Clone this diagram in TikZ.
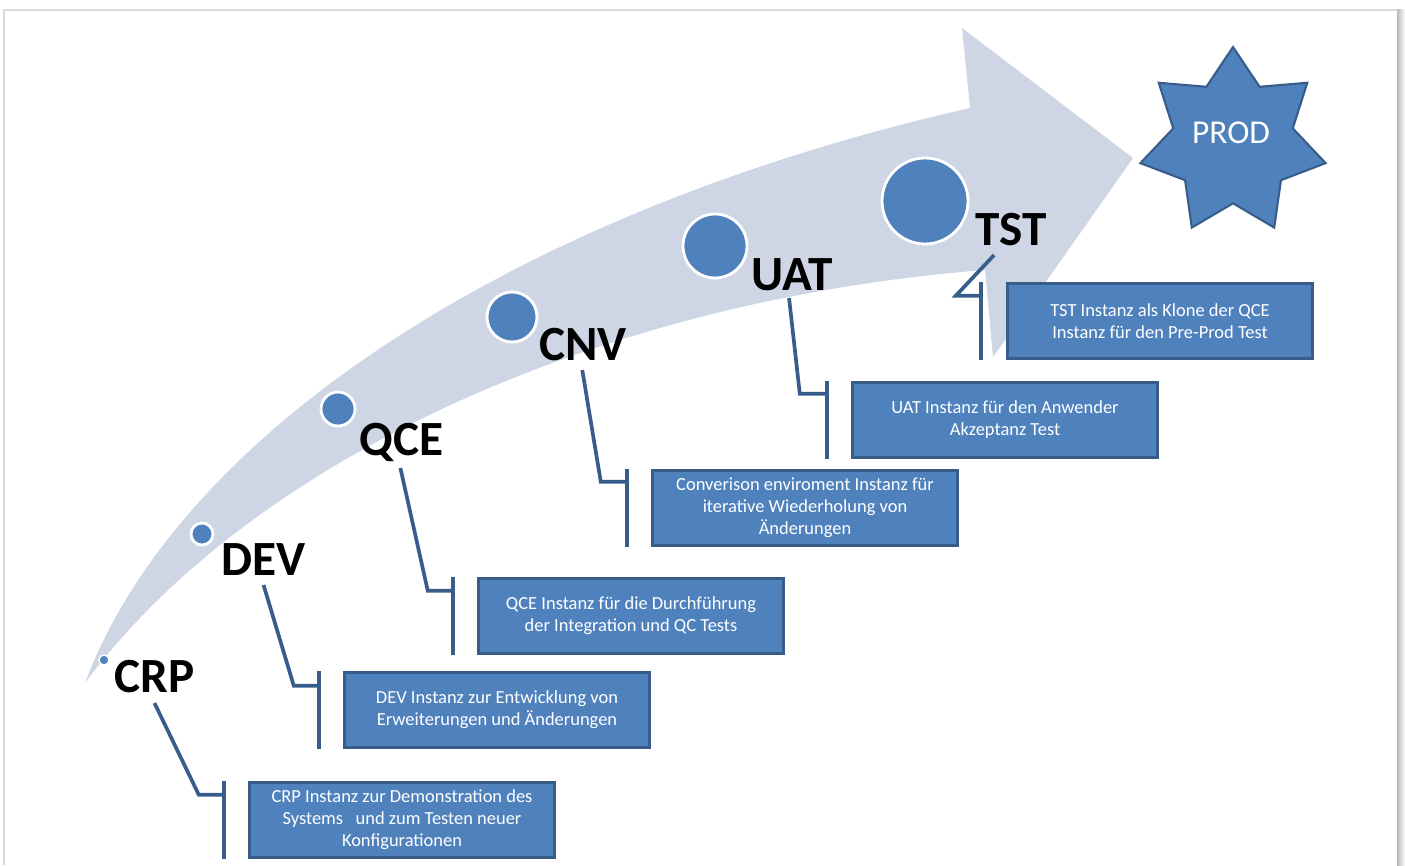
\documentclass[tikz,border=0pt]{standalone}
\usepackage{fontspec}
\setmainfont{Carlito}
\usetikzlibrary{shapes.geometric}
\definecolor{bandblue}{RGB}{206,214,230}
\definecolor{stepblue}{RGB}{79,129,189}
\definecolor{edgeblue}{RGB}{56,93,138}

\begin{document}
\begin{tikzpicture}[
		x=0.02cm, y=-0.02cm,
		line width=0.2mm,
		stage/.style={font=\fontsize{28}{30}\selectfont\bfseries, inner sep=0, anchor=base west},
		dot/.style={circle, fill=stepblue, draw=white, line width=1.6pt, inner sep=0},
		infobox/.style={rectangle, fill=stepblue, draw=edgeblue, line width=2pt, text=white, align=center,
			minimum width=6.1cm, minimum height=1.5cm, inner sep=2pt, font=\fontsize{10.5}{12.5}\selectfont},
		link/.style={draw=edgeblue, line width=2.1pt},
	]
	\useasboundingbox (0,0) rectangle (1405,865);
	% frame
	\shade[left color=gray!55, right color=white] (1397,10) rectangle (1405,865);
	\draw[gray!30, line width=0.8pt] (4,865) -- (4,10) -- (1397,10);
	
	% curved arrow
	\fill[bandblue] (85,683) .. controls (180,430) and (520,210) .. (970,108) -- (962,28) -- (1133,158)
		-- (993,357) -- (985,270) .. controls (600,300) and (250,460) .. (85,683) -- cycle;
	
	\node (crpdot) [dot, minimum size=0.2cm, line width=0.8pt] at (104,660) {};
	\node (devdot) [dot, minimum size=0.44cm] at (202,534) {};
	\node (qcedot) [dot, minimum size=0.68cm] at (338,409) {};
	\node (cnvdot) [dot, minimum size=1.0cm] at (512,317) {};
	\node (uatdot) [dot, minimum size=1.28cm] at (715,246) {};
	\node (tstdot) [dot, minimum size=1.72cm] at (925,201) {};
	
	\node (crp) [stage] at (114,692) {CRP};
	\node (dev) [stage] at (221,575) {DEV};
	\node (qce) [stage] at (359,455) {QCE};
	\node (cnv) [stage] at (539,360) {CNV};
	\node (uat) [stage] at (751,290) {UAT};
	\node (tst) [stage] at (975,245) {TST};
	
	\node (crpbox) [infobox] at (402,820) {CRP Instanz zur Demonstration des\\Systems\ \ \ und zum Testen\ neuer\\Konfigurationen};
	\node (devbox) [infobox] at (497,710) {DEV\ Instanz\ zur Entwicklung von\\Erweiterungen\ und Änderungen};
	\node (qcebox) [infobox] at (631,616) {QCE\ Instanz\ für die\ Durchführung\\der Integration und QC Tests};
	\node (cnvbox) [infobox] at (805,508) {Converison enviroment Instanz\ für\\iterative Wiederholung von\\Änderungen};
	\node (uatbox) [infobox] at (1005,420) {UAT\ Instanz\ für den Anwender\\Akzeptanz\ Test};
	\node (tstbox) [infobox] at (1160,321) {TST\ Instanz als Klone der QCE\\Instanz für den\ Pre-Prod Test};
	
	\coordinate (crpbar) at ([shift={(-24,0)}]crpbox.north west);
	\coordinate (devbar) at ([shift={(-24,0)}]devbox.north west);
	\coordinate (qcebar) at ([shift={(-24,0)}]qcebox.north west);
	\coordinate (cnvbar) at ([shift={(-24,0)}]cnvbox.north west);
	\coordinate (uatbar) at ([shift={(-24,0)}]uatbox.north west);
	\coordinate (tstbar) at ([shift={(-25,0)}]tstbox.north west);
	
	\draw[link] ([shift={(0,11)}]crp.base) -- ([shift={(-25,14)}]crpbar) -- ([shift={(0,14)}]crpbar);
	\draw[link] (crpbar) -- (crpbar |- crpbox.south);
	\draw[link] ([shift={(0,10)}]dev.base) -- ([shift={(-25,15)}]devbar) -- ([shift={(0,15)}]devbar);
	\draw[link] (devbar) -- (devbar |- devbox.south);
	\draw[link] ([shift={(-1,13)}]qce.base) -- ([shift={(-25,14)}]qcebar) -- ([shift={(0,14)}]qcebar);
	\draw[link] (qcebar) -- (qcebar |- qcebox.south);
	\draw[link] ([shift={(-1,10)}]cnv.base) -- ([shift={(-26,13)}]cnvbar) -- ([shift={(0,13)}]cnvbar);
	\draw[link] (cnvbar) -- (cnvbar |- cnvbox.south);
	\draw[link] ([shift={(-3,8)}]uat.base) -- ([shift={(-27,13)}]uatbar) -- ([shift={(0,13)}]uatbar);
	\draw[link] (uatbar) -- (uatbar |- uatbox.south);
	\draw[link] ([shift={(-17,10)}]tst.base) -- ([shift={(-25,14)}]tstbar) -- ([shift={(0,14)}]tstbar);
	\draw[link] (tstbar) -- (tstbar |- tstbox.south);
	
	\node (prod) [star, star points=7, star point ratio=1.55, minimum size=3.8cm, inner sep=0,
		fill=stepblue, draw=edgeblue, line width=1.2pt] at (1233,142) {};
	\node (prodlbl) [text=white, font=\fontsize{19}{21}\selectfont] at (1231,133) {PROD};
\end{tikzpicture}
\end{document}
